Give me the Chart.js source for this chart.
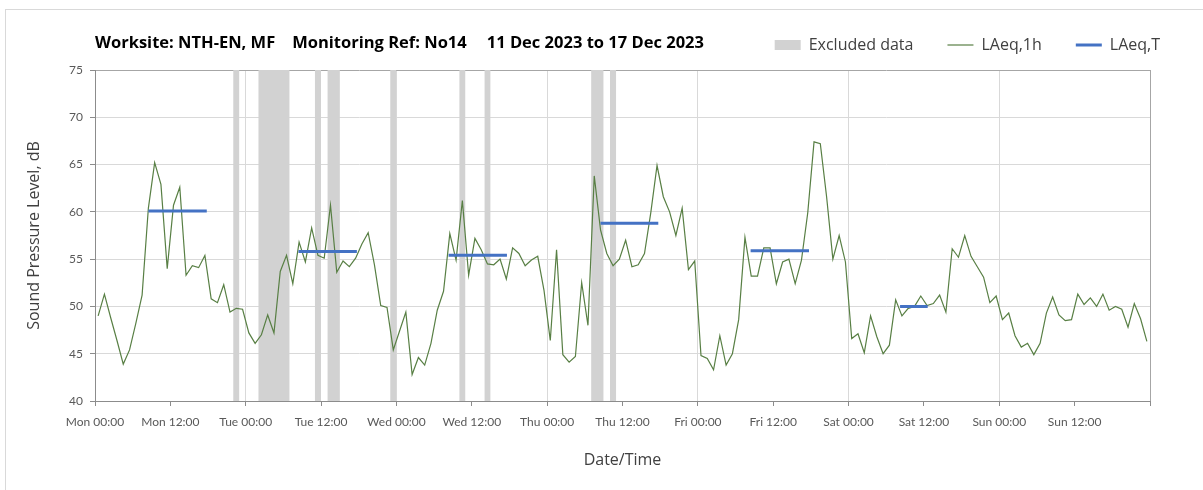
<!DOCTYPE html>
<html>
<head>
<meta charset="utf-8">
<script src="https://cdn.jsdelivr.net/npm/chart.js@4"></script>
<style>
body { margin: 0; background: #fff; }
#wrap { position: relative; width: 1203px; height: 490px; overflow: hidden; }
#marco { position: absolute; left: 5px; top: 9px; width: 1300px; height: 600px; border: 1px solid #d9d9d9; }
#titulo { position: absolute; left: 95px; top: 30px; font: bold 16.5px "Open Sans", sans-serif; color: #000; white-space: pre; }
#titulo span { margin-right: 17px; }
#titulo span + span { margin-right: 20px; }
canvas { position: absolute; left: 0; top: 0; }
</style>
</head>
<body>
<div id="wrap">
  <div id="marco"></div>
  <canvas id="ruidoChart" width="1203" height="490"></canvas>
  <div id="titulo"><span>Worksite: NTH-EN, MF</span><span>Monitoring Ref: No14</span><span>11 Dec 2023 to 17 Dec 2023</span></div>
</div>
<script>
const dias = ['Mon', 'Tue', 'Wed', 'Thu', 'Fri', 'Sat', 'Sun'];

// LAeq,1h, one value per hour from Mon 00:00
const laeq1h = [
    49.0, 51.3, 48.8, 46.4, 43.9, 45.4, 48.2, 51.2, 60.4, 65.2, 62.9, 54.0,
    60.7, 62.6, 53.3, 54.3, 54.1, 55.4, 50.8, 50.4, 52.3, 49.4, 49.8, 49.7,
    47.2, 46.1, 47.0, 49.1, 47.2, 53.7, 55.4, 52.4, 56.8, 54.7, 58.3, 55.4,
    55.1, 60.7, 53.6, 54.8, 54.2, 55.1, 56.6, 57.8, 54.4, 50.1, 49.9, 45.4,
    47.4, 49.4, 42.8, 44.6, 43.8, 46.1, 49.6, 51.6, 57.7, 54.9, 61.2, 53.3,
    57.2, 56.0, 54.5, 54.4, 55.0, 52.9, 56.2, 55.6, 54.3, 54.9, 55.3, 51.7,
    46.4, 56.0, 44.9, 44.1, 44.7, 52.5, 48.0, 63.8, 58.1, 55.6, 54.3, 55.0,
    57.0, 54.2, 54.4, 55.6, 59.9, 64.9, 61.6, 60.0, 57.5, 60.4, 53.9, 54.8,
    44.8, 44.5, 43.3, 46.9, 43.8, 45.0, 48.6, 57.3, 53.2, 53.2, 56.2, 56.2,
    52.4, 54.7, 55.0, 52.4, 54.9, 59.9, 67.4, 67.2, 61.6, 55.0, 57.5, 54.7,
    46.6, 47.1, 45.1, 49.0, 46.8, 45.0, 45.9, 50.7, 49.0, 49.8, 50.0, 51.1,
    50.1, 50.3, 51.2, 49.4, 56.1, 55.2, 57.5, 55.3, 54.2, 53.1, 50.4, 51.1,
    48.6, 49.3, 46.9, 45.7, 46.1, 44.9, 46.1, 49.3, 51.0, 49.1, 48.5, 48.6,
    51.3, 50.2, 50.9, 50.0, 51.3, 49.6, 50.0, 49.7, 47.8, 50.3, 48.7, 46.3
];

// excluded periods, hours from Mon 00:00
const excluidoInicio = [22, 26, 35, 37, 47, 58, 62, 79, 82];
const excluidoFin    = [23, 31, 36, 39, 48, 59, 63, 81, 83];

// LAeq,T periods
const periodoInicio = [8.5, 32.4, 56.3, 80.5, 104.4, 128.2];
const periodoFin    = [17.8, 41.7, 65.6, 89.7, 113.7, 132.6];
const laeqT         = [60.1, 55.8, 55.4, 58.8, 55.9, 50.0];

const excluidoData = [];
excluidoInicio.forEach((a, k) => {
    excluidoData.push({x: a, y: 75}, {x: excluidoFin[k], y: 75}, {x: excluidoFin[k], y: null});
});

const periodoData = [];
periodoInicio.forEach((a, k) => {
    periodoData.push({x: a, y: laeqT[k]}, {x: periodoFin[k], y: laeqT[k]}, {x: periodoFin[k], y: null});
});

const margenLeyenda = {
    id: 'margenLeyenda',
    beforeInit(chart) {
        const fitOriginal = chart.legend.fit;
        chart.legend.fit = function () {
            fitOriginal.bind(chart.legend)();
            this.height += 7;
        };
    }
};

const fuente = 'Lato, sans-serif';
const fuenteTitulos = '"Open Sans", sans-serif';

const ruidoChart = new Chart(document.getElementById('ruidoChart'), {
    type: 'line',
    data: {
        datasets: [{
            label: 'Excluded data',
            data: excluidoData,
            backgroundColor: '#d2d2d2',
            borderColor: '#d2d2d2',
            borderWidth: 0,
            fill: 'start',
            pointRadius: 0,
            pointStyle: 'rect',
            spanGaps: false,
            order: 3
        }, {
            label: 'LAeq,1h',
            data: laeq1h.map((v, i) => ({x: i + 0.5, y: v})),
            borderColor: '#587f44',
            backgroundColor: '#587f44',
            borderWidth: 1.2,
            pointRadius: 0,
            pointStyle: 'line',
            tension: 0,
            order: 2
        }, {
            label: 'LAeq,T',
            data: periodoData,
            borderColor: '#4472c4',
            backgroundColor: '#4472c4',
            borderWidth: 3,
            pointRadius: 0,
            pointStyle: 'line',
            spanGaps: false,
            order: 1
        }]
    },
    options: {
        responsive: false,
        animation: false,
        layout: { padding: { left: 20, right: 9, top: 3, bottom: 10 } },
        plugins: {
            tooltip: { enabled: false },
            legend: {
                position: 'top',
                align: 'end',
                labels: {
                    usePointStyle: true,
                    pointStyleWidth: 26,
                    boxHeight: 10,
                    padding: 34,
                    color: '#404040',
                    font: { family: fuenteTitulos, size: 16 },
                    sort: (a, b) => a.datasetIndex - b.datasetIndex
                }
            }
        },
        scales: {
            x: {
                type: 'linear',
                min: 0,
                max: 168,
                afterFit: (s) => { s.height = 79; },
                ticks: {
                    stepSize: 12,
                    autoSkip: false,
                    maxRotation: 0,
                    padding: 9,
                    color: '#595959',
                    font: { family: fuente, size: 12 },
                    callback: (v) => v >= 168 ? '' : dias[Math.floor(v / 24)] + (v % 24 === 0 ? ' 00:00' : ' 12:00')
                },
                grid: {
                    color: (c) => c.tick.value === 168 ? '#a6a6a6' : (c.tick.value % 24 === 0 ? '#d9d9d9' : 'transparent'),
                    tickColor: '#8c8c8c',
                    tickLength: 5
                },
                border: { color: '#8c8c8c' },
                title: {
                    display: true,
                    text: 'Date/Time',
                    color: '#404040',
                    font: { family: fuenteTitulos, size: 16 },
                    padding: { top: 0, bottom: 10 }
                }
            },
            y: {
                min: 40,
                max: 75,
                afterFit: (s) => { s.width = 75; },
                ticks: {
                    stepSize: 5,
                    padding: 7,
                    color: '#595959',
                    font: { family: fuente, size: 12 }
                },
                grid: {
                    color: (c) => c.tick.value === 75 ? '#a6a6a6' : '#d9d9d9',
                    tickColor: '#8c8c8c',
                    tickLength: 5
                },
                border: { color: '#8c8c8c' },
                title: {
                    display: true,
                    text: 'Sound Pressure Level, dB',
                    color: '#404040',
                    font: { family: fuenteTitulos, size: 16 },
                    padding: { top: 5, bottom: 0 }
                }
            },
            y2: {
                position: 'right',
                afterFit: (s) => { s.width = 44; },
                ticks: { display: false },
                grid: { display: false },
                border: { display: false }
            }
        }
    },
    plugins: [margenLeyenda]
});
</script>
</body>
</html>
